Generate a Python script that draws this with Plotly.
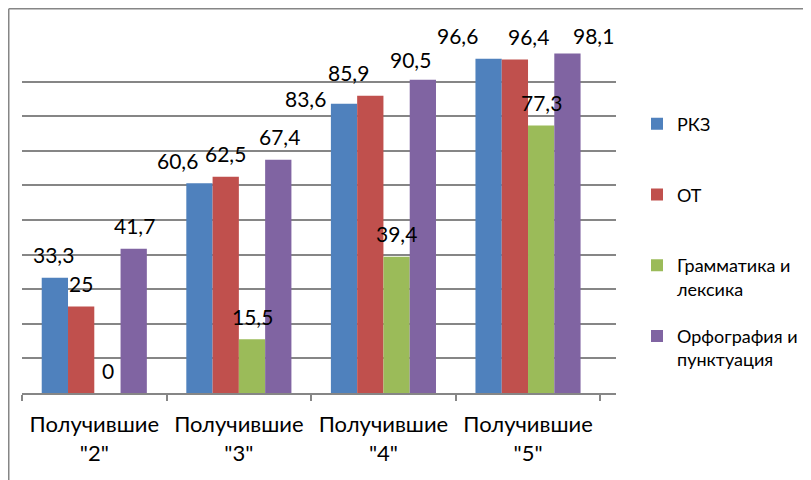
"""Bar chart: results by grade group"""

from plotly import graph_objects as go

categories = ['Получившие<br>"2"', 'Получившие<br>"3"', 'Получившие<br>"4"', 'Получившие<br>"5"']
series_names = ["РКЗ", "ОТ", "Грамматика и<br>лексика", "Орфография и<br>пунктуация"]
rkz = [33.3, 60.6, 83.6, 96.6]
ot = [25, 62.5, 85.9, 96.4]
grammar = [0, 15.5, 39.4, 77.3]
spelling = [41.7, 67.4, 90.5, 98.1]

colors = ["#4F81BD", "#C0504D", "#9BBB59", "#8064A2"]
FONT = "Lato, 'Noto Sans', sans-serif"
AXIS_GRAY = "#868686"

# figure size and plot area margins (px); the page body adds an 8px offset
W, H = 803, 472
L, R, T, B = 14, 195, 39, 87
BARGAP = 0.273

# manual nudges for data labels that Excel moved to avoid overlaps: (series, category) -> (dx, dy)
label_nudge = {
    (0, 1): (-21, 0),
    (0, 2): (-37, -18),
    (1, 2): (-21, 0),
    (3, 2): (-13, -3),
    (0, 3): (-30, 0),
    (1, 3): (14, 0),
    (3, 3): (25, -5),
}

all_series = [rkz, ot, grammar, spelling]

fig = go.Figure()
for name, vals, col in zip(series_names, all_series, colors):
    # pad single-line names so every legend entry is two lines tall
    legend_name = name if "<br>" in name else name + "<br> "
    fig.add_trace(go.Bar(x=categories, y=vals, name=legend_name, marker_color=col,
                         marker_line_width=0, legendgroup=name))

plot_w = W - L - R
plot_h = H - T - B
cat_px = plot_w / len(categories)
bar_px = cat_px * (1 - BARGAP) / len(all_series)
annotations = []
for si, vals in enumerate(all_series):
    for ci, v in enumerate(vals):
        dx, dy = label_nudge.get((si, ci), (0, 0))
        annotations.append(dict(
            x=categories[ci], y=v, xref="x", yref="y",
            text=f"{v:g}".replace(".", ","),
            showarrow=False, yanchor="middle", xanchor="center",
            xshift=(si - 1.5) * bar_px + dx, yshift=23 + dy,
            font=dict(family=FONT, size=21, color="#000000"),
        ))

# outer chart frame: only its left and top edges are inside the picture
frame_x = (0.75 - L) / plot_w
frame_y = (H - B - 0.75) / plot_h

fig.update_layout(
    autosize=False,
    width=W, height=H,
    margin=dict(l=L, r=R, t=T, b=B, autoexpand=False),
    paper_bgcolor="white", plot_bgcolor="white",
    barmode="group", bargap=BARGAP, bargroupgap=0,
    font=dict(family=FONT, size=18, color="#000000"),
    annotations=annotations,
    legend=dict(x=(629 - L) / plot_w, xanchor="left", y=0.831, yanchor="top",
                font=dict(family=FONT, size=18), valign="top", tracegroupgap=21,
                itemwidth=30, bgcolor="rgba(0,0,0,0)"),
    xaxis=dict(showgrid=False, showline=True, linecolor=AXIS_GRAY, linewidth=1.5,
               ticks="outside", tickson="boundaries", ticklen=6, tickcolor=AXIS_GRAY,
               tickwidth=1.5, ticklabelstandoff=11, tickfont=dict(family=FONT, size=22),
               automargin=False),
    yaxis=dict(range=[0, 100], dtick=10, showgrid=True, gridcolor=AXIS_GRAY, gridwidth=1.5,
               showticklabels=False, zeroline=False, showline=False, fixedrange=True,
               automargin=False),
    shapes=[
        dict(type="line", xref="paper", yref="paper", x0=frame_x, x1=1.5,
             y0=frame_y, y1=frame_y, line=dict(color=AXIS_GRAY, width=1.5)),
        dict(type="line", xref="paper", yref="paper", x0=frame_x, x1=frame_x,
             y0=-0.5, y1=frame_y, line=dict(color=AXIS_GRAY, width=1.5)),
    ],
)

fig.write_html("out.html")
